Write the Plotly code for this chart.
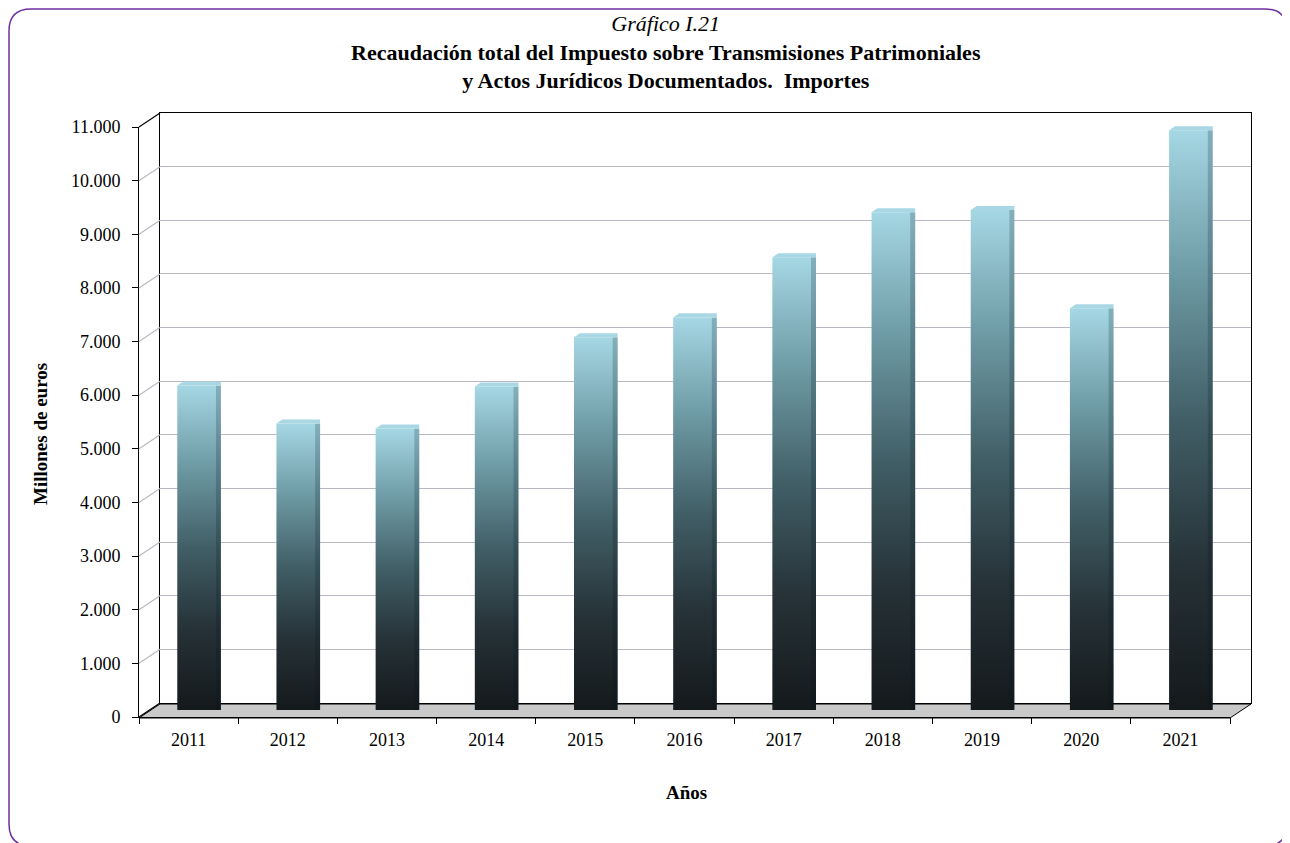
import plotly.graph_objects as go

# data
years = ['2011', '2012', '2013', '2014', '2015', '2016', '2017', '2018', '2019', '2020', '2021']
importes = [6050, 5340, 5250, 6030, 6950, 7320, 8440, 9280, 9320, 7490, 10810]
y_ticks = [0, 1000, 2000, 3000, 4000, 5000, 6000, 7000, 8000, 9000, 10000, 11000]

FONT = 'Liberation Serif'
OFF = 8                  # the page body margin shifts the figure by 8px
W_FIG, H_FIG = 1290 - OFF, 843 - OFF
# plot area in page pixels (union of front and back planes)
L, R_EDGE, T, B_EDGE = 139, 1251, 113, 718
PW, PH = R_EDGE - L, B_EDGE - T
DX, DY = 21, 14          # depth offset of the back wall
FRONT = dict(x0=139, x1=1230, y0=717, y1=127)


def fx(px):
    return (px - L) / PW


def fy(py):
    return (B_EDGE - py) / PH


def plane(shift):
    dx, dy = DX * shift, DY * shift
    return dict(x=[fx(FRONT['x0'] + dx), fx(FRONT['x1'] + dx)],
                y=[fy(FRONT['y0'] - dy), fy(FRONT['y1'] - dy)])


front, back, mid = plane(0), plane(1), plane(0.5)

grad = [[0, '#14191b'], [0.25, '#263238'], [0.5, '#415e66'],
        [0.75, '#6d9aa4'], [1, '#a5d7e4']]

fig = go.Figure()

# invisible trace to carry the category axis (front plane)
fig.add_trace(go.Bar(x=years, y=importes, marker=dict(color='rgba(0,0,0,0)', line=dict(width=0)),
                     xaxis='x', yaxis='y', showlegend=False,
                     hovertemplate='%{x}: %{y:,} M€<extra></extra>'))

# invisible trace for the back wall grid
fig.add_trace(go.Scatter(x=[-0.5, 10.5], y=[0, 11000], mode='none',
                         xaxis='x2', yaxis='y2', showlegend=False, hoverinfo='skip'))

# bars (mid depth) with vertical gradient
hw = 0.22
for i, v in enumerate(importes):
    x0, x1 = i - hw, i + hw
    fig.add_trace(go.Scatter(
        x=[x0, x1, x1, x0, x0], y=[0, 0, v, v, 0],
        fill='toself', mode='lines', line=dict(width=0),
        fillgradient=dict(type='vertical', colorscale=grad),
        xaxis='x3', yaxis='y3', showlegend=False, hoverinfo='skip'))
    # darker right side face
    fig.add_trace(go.Scatter(
        x=[x1 - 0.05, x1, x1, x1 - 0.05, x1 - 0.05], y=[0, 0, v, v, 0],
        fill='toself', mode='lines', line=dict(width=0),
        fillcolor='rgba(0,20,30,0.2)',
        xaxis='x3', yaxis='y3', showlegend=False, hoverinfo='skip'))
    # top cap
    fig.add_trace(go.Scatter(
        x=[x0, x0 + 0.06, x1, x1, x0], y=[v, v + 75, v + 75, v, v],
        fill='toself', mode='lines', line=dict(width=0),
        fillcolor='#a9d8e4',
        xaxis='x3', yaxis='y3', showlegend=False, hoverinfo='skip'))

shapes = []
# floor
fl = [(139, 718), (1230, 718), (1251, 704), (160, 704)]
path = 'M ' + ' L '.join(f'{fx(a)},{fy(b)}' for a, b in fl) + ' Z'
shapes.append(dict(type='path', xref='paper', yref='paper', path=path,
                   fillcolor='#c9c9c9', line=dict(color='black', width=1), layer='below'))

# side wall connectors
yr = FRONT['y0'] - FRONT['y1']
for t in y_ticks:
    py_front = FRONT['y0'] - t / 11000 * yr
    col = 'black' if t in (0, 11000) else '#b8b8c2'
    shapes.append(dict(type='line', xref='paper', yref='paper',
                       x0=fx(139), y0=fy(py_front), x1=fx(139 + DX), y1=fy(py_front - DY),
                       line=dict(color=col, width=1.2)))

# rounded border (kept just inside the figure)
x0b, y0b, x1b, y1b, r = 9, 9, 1287, 846, 22
pts = [('M', x0b + r, y0b), ('L', x1b - r, y0b), ('Q', x1b, y0b, x1b, y0b + r),
       ('L', x1b, y1b - r), ('Q', x1b, y1b, x1b - r, y1b), ('L', x0b + r, y1b),
       ('Q', x0b, y1b, x0b, y1b - r), ('L', x0b, y0b + r), ('Q', x0b, y0b, x0b + r, y0b)]
border = ''
for p in pts:
    cmd, coords = p[0], p[1:]
    border += cmd + ' ' + ' '.join(f'{fx(coords[k])},{fy(coords[k + 1])}'
                                    for k in range(0, len(coords), 2)) + ' '
shapes.append(dict(type='path', xref='paper', yref='paper', layer='above',
                   path=border + 'Z', line=dict(color='#7030a0', width=1.5)))

annotations = [
    dict(xref='paper', yref='paper', x=fx(666), y=fy(52), xanchor='center', yanchor='middle',
         text='<i>Gráfico I.21</i><br><b>Recaudación total del Impuesto sobre Transmisiones Patrimoniales</b>'
              '<br><b>y Actos Jurídicos Documentados.  Importes</b>',
         showarrow=False, font=dict(family=FONT, size=22, color='black')),
    dict(xref='paper', yref='paper', x=fx(40), y=fy(434), textangle=-90,
         xanchor='center', yanchor='middle', text='<b>Millones de euros</b>',
         showarrow=False, font=dict(family=FONT, size=19, color='black')),
    dict(xref='paper', yref='paper', x=fx(686), y=fy(792),
         xanchor='center', yanchor='middle', text='<b>Años</b>',
         showarrow=False, font=dict(family=FONT, size=19, color='black')),
]

fig.update_layout(
    template='none',
    width=W_FIG, height=H_FIG,
    margin=dict(l=L - OFF, r=W_FIG - (R_EDGE - OFF), t=T - OFF, b=H_FIG - (B_EDGE - OFF)),
    paper_bgcolor='white', plot_bgcolor='rgba(0,0,0,0)',
    separators=',.',
    font=dict(family=FONT, size=18, color='black'),
    showlegend=False,
    xaxis=dict(domain=front['x'], anchor='y', type='category',
               showline=True, linecolor='black', linewidth=1,
               ticks='outside', tickson='boundaries', ticklen=6, tickcolor='black',
               showgrid=False, ticklabelstandoff=6, fixedrange=True),
    yaxis=dict(domain=front['y'], anchor='x', range=[0, 11000], tickvals=y_ticks,
               tickformat=',d', showline=True, linecolor='black', linewidth=1,
               ticks='outside', ticklen=6, tickcolor='black', showgrid=False,
               zeroline=False, ticklabelstandoff=8, fixedrange=True),
    xaxis2=dict(domain=back['x'], anchor='y2', range=[-0.5, 10.5], showticklabels=False,
                showgrid=False, zeroline=False, showline=True, mirror=True, ticks='',
                linecolor='black', linewidth=1, fixedrange=True),
    yaxis2=dict(domain=back['y'], anchor='x2', range=[0, 11000], tickvals=y_ticks,
                showticklabels=False, showgrid=True, gridcolor='#b8b8c2', gridwidth=1.2,
                zeroline=False, showline=True, mirror=True, linecolor='black', ticks='',
                linewidth=1, fixedrange=True),
    xaxis3=dict(domain=mid['x'], anchor='y3', range=[-0.5, 10.5], visible=False, fixedrange=True),
    yaxis3=dict(domain=mid['y'], anchor='x3', range=[0, 11000], visible=False, fixedrange=True),
    shapes=shapes,
    annotations=annotations,
)

fig.write_html('out.html')
